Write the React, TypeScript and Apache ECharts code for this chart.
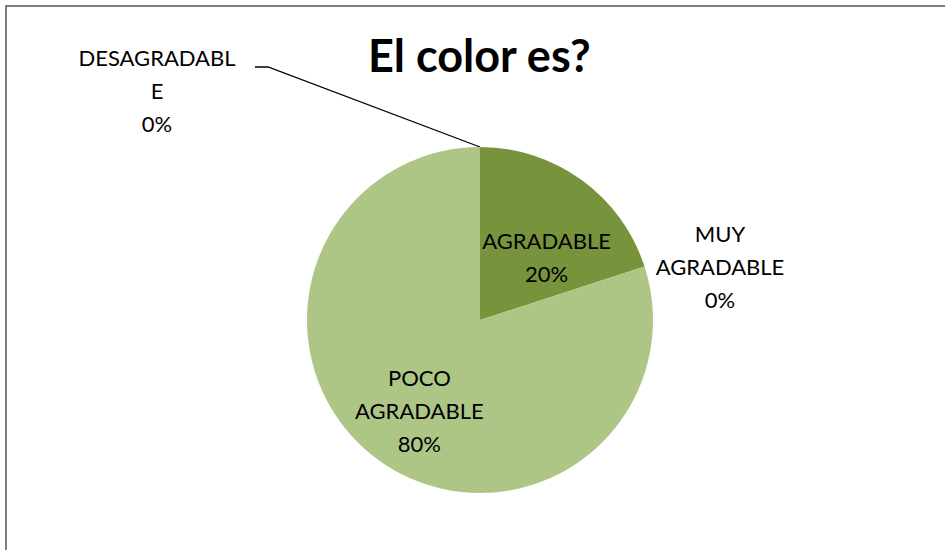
import React, { useEffect, useRef } from "react";
import * as echarts from "echarts";

const titleText = "El color es?";
const categories = ["AGRADABLE", "MUY AGRADABLE", "POCO AGRADABLE", "DESAGRADABLE"];
const labelNames = ["AGRADABLE", "MUY\nAGRADABLE", "POCO\nAGRADABLE", "DESAGRADABL\nE"];
const values = [20, 0, 80, 0];
const colors = ["#77933C", "#77933C", "#ADC685", "#ADC685"];

export default function App() {
  const ref = useRef<HTMLDivElement>(null);
  useEffect(() => {
    if (!ref.current) return;
    const chart = echarts.init(ref.current, undefined, { renderer: "svg" });
    const total = values.reduce((a, b) => a + b, 0);
    const font = "Lato, 'Open Sans', sans-serif";
    const insideOffsets: Record<number, number[]> = { 0: [14, 9], 2: [-8, 18] };
    chart.setOption({
      animation: false,
      backgroundColor: "#ffffff",
      title: {
        text: titleText,
        left: 368,
        top: 32,
        padding: 0,
        textStyle: { fontFamily: font, fontSize: 45, fontWeight: "bold", color: "#000" },
      },
      graphic: [
        {
          type: "rect",
          shape: { x: 6, y: 6, width: 1000, height: 1000 },
          style: { fill: "none", stroke: "#7f7f7f", lineWidth: 2 },
          silent: true,
        },
      ],
      series: [
        {
          type: "pie",
          center: [480, 320],
          radius: 173,
          startAngle: 90,
          clockwise: true,
          avoidLabelOverlap: false,
          itemStyle: { borderWidth: 0 },
          emphasis: { disabled: true },
          label: {
            fontFamily: font,
            fontSize: 22,
            lineHeight: 33,
            color: "#000",
            align: "center",
          },
          labelLine: { show: false, lineStyle: { color: "#000", width: 1.3 } },
          labelLayout: (p: any) => {
            if (p.dataIndex === 1) {
              return { x: 720, y: 266, align: "center", verticalAlign: "middle" };
            }
            if (p.dataIndex === 3) {
              return {
                x: 157,
                y: 90,
                align: "center",
                verticalAlign: "middle",
                labelLinePoints: [
                  [480, 147],
                  [268, 67],
                  [255, 67],
                ],
              };
            }
            return {};
          },
          data: categories.map((name, i) => ({
            name,
            value: values[i],
            itemStyle: { color: colors[i] },
            label: {
              position: values[i] > 0 ? "inside" : "outside",
              offset: insideOffsets[i] || [0, 0],
              formatter: () => `${labelNames[i]}\n${Math.round((values[i] / total) * 100)}%`,
            },
            labelLine: { show: i === 3 },
          })),
        },
      ],
    });
    return () => chart.dispose();
  }, []);
  return (
    <div
      ref={ref}
      style={{ position: "fixed", left: 0, top: 0, width: 945, height: 550, background: "#fff" }}
    />
  );
}
